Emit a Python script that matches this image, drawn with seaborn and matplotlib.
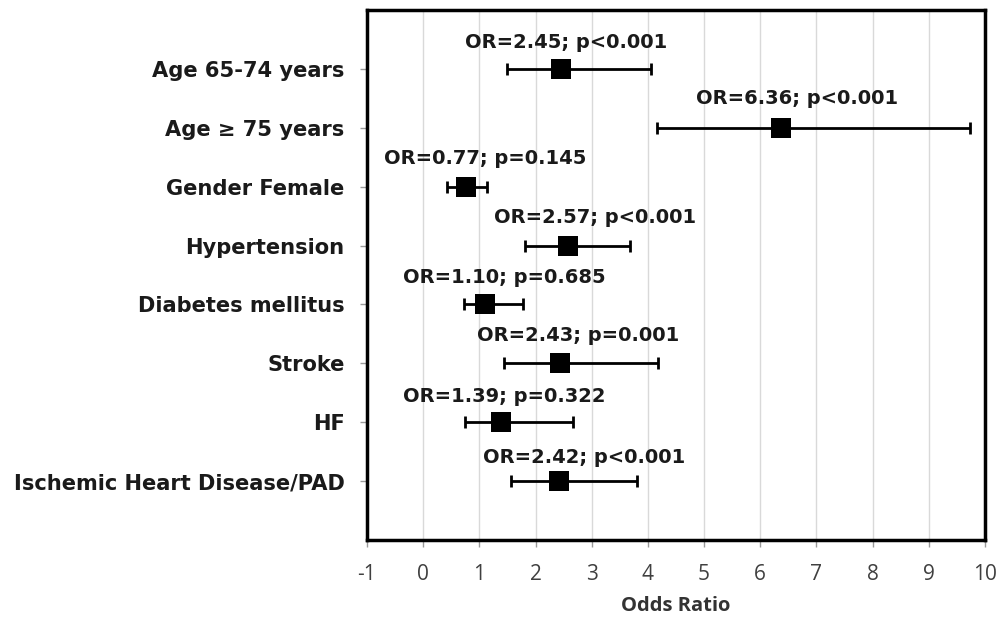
import matplotlib
matplotlib.use("Agg")
import matplotlib.pyplot as plt
import seaborn as sns
import pandas as pd

categories = ["Age 65-74 years", "Age \u2265 75 years", "Gender Female", "Hypertension",
              "Diabetes mellitus", "Stroke", "HF", "Ischemic Heart Disease/PAD"]
odds_ratio = [2.45, 6.36, 0.77, 2.57, 1.10, 2.43, 1.39, 2.42]
ci_low = [1.49, 4.16, 0.42, 1.82, 0.72, 1.44, 0.75, 1.57]
ci_high = [4.05, 9.74, 1.14, 3.69, 1.77, 4.18, 2.67, 3.80]
p_text = ["p<0.001", "p<0.001", "p=0.145", "p<0.001", "p=0.685", "p=0.001", "p=0.322", "p<0.001"]
x_ticks = list(range(-1, 11))

# layout: label centre x (data units) as placed in the original
label_x = [2.55, 6.65, 1.10, 3.06, 1.45, 2.76, 1.45, 2.87]
label_dy = [0.44, 0.50, 0.47, 0.47, 0.46, 0.48, 0.44, 0.40]

df = pd.DataFrame({"cat": categories, "OR": odds_ratio, "lo": ci_low, "hi": ci_high})
df["y"] = range(len(df))

sns.set_style("white")
plt.rcParams["font.family"] = ["DejaVu Sans"]

fig = plt.figure(figsize=(9.98, 6.21), dpi=100)
ax = fig.add_axes([0.3677, 0.1304, 0.6193, 0.8535])

for v in x_ticks:
    ax.axvline(v, color="#d9d9d9", lw=1.0, zorder=0)

ax.errorbar(df["OR"], df["y"], xerr=[df["OR"] - df["lo"], df["hi"] - df["OR"]],
            fmt="none", ecolor="black", elinewidth=2.0, capsize=4, capthick=2.0, zorder=2)
sns.scatterplot(data=df, x="OR", y="y", marker="s", s=200, color="black",
                edgecolor="black", linewidth=0, ax=ax, zorder=3, legend=False)

for i, (o, p) in enumerate(zip(odds_ratio, p_text)):
    ax.text(label_x[i], i - label_dy[i], f"OR={o:.2f}; {p}", ha="center", va="center",
            fontsize=14, fontweight="bold", color="#1a1a1a")

ax.set_xlim(-1, 10)
ax.set_ylim(8, -1)
ax.set_xticks(x_ticks)
ax.set_xticklabels([str(t) for t in x_ticks], fontsize=15, color="#404040",
                   family=["Open Sans", "DejaVu Sans"])
ax.set_yticks(range(len(categories)))
ax.set_yticklabels(categories, fontsize=15.1, fontweight="bold", color="#1a1a1a")
ax.tick_params(axis="x", length=5, width=1, color="#999999", pad=12, direction="out", bottom=True)
ax.tick_params(axis="y", length=5, width=1, color="#999999", pad=11, direction="out", left=True)
ax.set_xlabel("Odds Ratio", fontsize=14.5, fontweight="bold", color="#333333",
              family=["Open Sans", "DejaVu Sans"], labelpad=8)
ax.set_ylabel("")
for s in ax.spines.values():
    s.set_visible(True)
    s.set_color("black")
    s.set_linewidth(2.5)

fig.savefig("out.png", dpi=100)
